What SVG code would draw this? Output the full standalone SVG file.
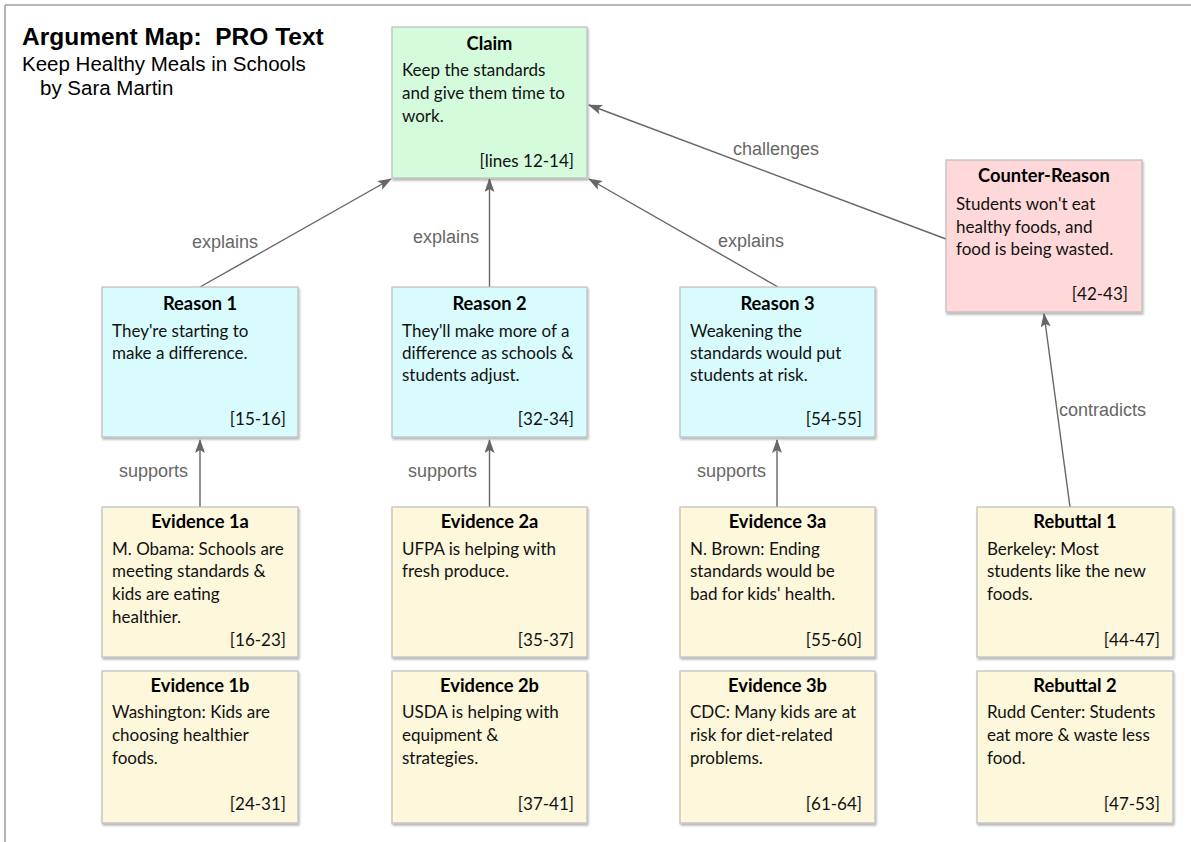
<svg xmlns="http://www.w3.org/2000/svg" width="1191" height="842" viewBox="0 0 1191 842">
  <style>
    .title { font-family: "Liberation Sans", Arial, sans-serif; font-weight: bold; font-size: 24.5px; fill: #000; white-space: pre; }
    .sub { font-family: "Liberation Sans", Arial, sans-serif; font-size: 20.5px; fill: #000; }
    .box { stroke: #bdbdbd; stroke-width: 1.2; filter: url(#shadow); }
    .claim { fill: #d5fbdd; }
    .reason { fill: #d8fbfe; }
    .counter { fill: #ffd9d9; }
    .evidence { fill: #fdf7dc; }
    .head { font-family: Lato, "Open Sans", sans-serif; font-weight: bold; font-size: 18.3px; fill: #000; text-anchor: middle; }
    .body { font-family: Lato, "Open Sans", sans-serif; font-size: 17px; fill: #111; }
    .ref { font-family: Lato, "Open Sans", sans-serif; font-size: 17px; fill: #111; text-anchor: end; }
    .edge { stroke: #666; stroke-width: 1.4; fill: none; marker-end: url(#arrow); }
    .lbl { font-family: "Liberation Sans", Arial, sans-serif; font-size: 18px; fill: #666; }
  </style>
  <defs>
    <filter id="shadow" x="-10%" y="-10%" width="125%" height="125%">
      <feDropShadow dx="1" dy="2" stdDeviation="1.3" flood-color="#000" flood-opacity="0.3"/>
    </filter>
    <marker id="arrow" viewBox="0 0 14 10" refX="13" refY="5" markerWidth="14" markerHeight="10" markerUnits="userSpaceOnUse" orient="auto">
      <path d="M0,0 L14,5 L0,10 L3,5 Z" fill="#666"/>
    </marker>
  </defs>

  <rect x="0" y="0" width="1191" height="842" fill="#fff"/>
  <!-- page frame: top and left rules -->
  <path d="M5,5 H1191 M5,5 V842" stroke="#a0a0a0" stroke-width="1.6" fill="none"/>

  <!-- heading -->
  <g id="heading">
    <text class="title" x="22" y="45">Argument Map:  PRO Text</text>
    <text class="sub" x="22" y="71">Keep Healthy Meals in Schools</text>
    <text class="sub" x="40" y="95">by Sara Martin</text>
  </g>

  <!-- connectors -->
  <g id="connectors">
    <line class="edge" x1="200" y1="287" x2="391" y2="179"/>
    <line class="edge" x1="489.5" y1="287" x2="489.5" y2="179"/>
    <line class="edge" x1="778" y1="287" x2="589" y2="179"/>
    <line class="edge" x1="946" y1="239" x2="589" y2="105"/>
    <line class="edge" x1="200" y1="507" x2="200" y2="440"/>
    <line class="edge" x1="489.5" y1="507" x2="489.5" y2="440"/>
    <line class="edge" x1="777" y1="507" x2="777" y2="440"/>
    <line class="edge" x1="1070" y1="507" x2="1044" y2="314"/>
    <text class="lbl" x="192" y="248">explains</text>
    <text class="lbl" x="413" y="243">explains</text>
    <text class="lbl" x="718" y="247">explains</text>
    <text class="lbl" x="733" y="155">challenges</text>
    <text class="lbl" x="119" y="477">supports</text>
    <text class="lbl" x="408" y="477">supports</text>
    <text class="lbl" x="697" y="477">supports</text>
    <text class="lbl" x="1059" y="416">contradicts</text>
  </g>

  <!-- claim -->
  <g id="claim">
    <rect class="box claim" x="392" y="27" width="195" height="151"/>
    <text class="head" x="489.5" y="50">Claim</text>
    <text class="body" x="402" y="76">Keep the standards</text>
    <text class="body" x="402" y="99">and give them time to</text>
    <text class="body" x="402" y="122">work.</text>
    <text class="ref" x="574" y="167">[lines 12-14]</text>
  </g>

  <!-- counter-reason -->
  <g id="counter-reason">
    <rect class="box counter" x="946" y="160" width="196" height="152"/>
    <text class="head" x="1044" y="182">Counter-Reason</text>
    <text class="body" x="956" y="210">Students won't eat</text>
    <text class="body" x="956" y="233">healthy foods, and</text>
    <text class="body" x="956" y="255">food is being wasted.</text>
    <text class="ref" x="1128" y="300">[42-43]</text>
  </g>

  <!-- reasons -->
  <g id="reason-1">
    <rect class="box reason" x="102" y="287" width="196" height="150"/>
    <text class="head" x="200" y="310">Reason 1</text>
    <text class="body" x="112" y="337">They're starting to</text>
    <text class="body" x="112" y="359">make a difference.</text>
    <text class="ref" x="286" y="425">[15-16]</text>
  </g>
  <g id="reason-2">
    <rect class="box reason" x="392" y="287" width="195" height="150"/>
    <text class="head" x="489.5" y="310">Reason 2</text>
    <text class="body" x="402" y="337">They'll make more of a</text>
    <text class="body" x="402" y="359">difference as schools &amp;</text>
    <text class="body" x="402" y="381">students adjust.</text>
    <text class="ref" x="574" y="425">[32-34]</text>
  </g>
  <g id="reason-3">
    <rect class="box reason" x="680" y="287" width="195" height="150"/>
    <text class="head" x="777.5" y="310">Reason 3</text>
    <text class="body" x="690" y="337">Weakening the</text>
    <text class="body" x="690" y="359">standards would put</text>
    <text class="body" x="690" y="381">students at risk.</text>
    <text class="ref" x="862" y="425">[54-55]</text>
  </g>

  <!-- evidence row a -->
  <g id="evidence-1a">
    <rect class="box evidence" x="102" y="507" width="196" height="150"/>
    <text class="head" x="200" y="528">Evidence 1a</text>
    <text class="body" x="112" y="555">M. Obama: Schools are</text>
    <text class="body" x="112" y="577">meeting standards &amp;</text>
    <text class="body" x="112" y="600">kids are eating</text>
    <text class="body" x="112" y="623">healthier.</text>
    <text class="ref" x="286" y="646">[16-23]</text>
  </g>
  <g id="evidence-2a">
    <rect class="box evidence" x="392" y="507" width="195" height="150"/>
    <text class="head" x="489.5" y="528">Evidence 2a</text>
    <text class="body" x="402" y="555">UFPA is helping with</text>
    <text class="body" x="402" y="577">fresh produce.</text>
    <text class="ref" x="574" y="646">[35-37]</text>
  </g>
  <g id="evidence-3a">
    <rect class="box evidence" x="680" y="507" width="195" height="150"/>
    <text class="head" x="777.5" y="528">Evidence 3a</text>
    <text class="body" x="690" y="555">N. Brown: Ending</text>
    <text class="body" x="690" y="577">standards would be</text>
    <text class="body" x="690" y="600">bad for kids' health.</text>
    <text class="ref" x="862" y="646">[55-60]</text>
  </g>
  <g id="rebuttal-1">
    <rect class="box evidence" x="977" y="507" width="196" height="150"/>
    <text class="head" x="1075" y="528">Rebuttal 1</text>
    <text class="body" x="987" y="555">Berkeley: Most</text>
    <text class="body" x="987" y="577">students like the new</text>
    <text class="body" x="987" y="600">foods.</text>
    <text class="ref" x="1160" y="646">[44-47]</text>
  </g>

  <!-- evidence row b -->
  <g id="evidence-1b">
    <rect class="box evidence" x="102" y="671" width="196" height="152"/>
    <text class="head" x="200" y="692">Evidence 1b</text>
    <text class="body" x="112" y="718">Washington: Kids are</text>
    <text class="body" x="112" y="741">choosing healthier</text>
    <text class="body" x="112" y="764">foods.</text>
    <text class="ref" x="286" y="810">[24-31]</text>
  </g>
  <g id="evidence-2b">
    <rect class="box evidence" x="392" y="671" width="195" height="152"/>
    <text class="head" x="489.5" y="692">Evidence 2b</text>
    <text class="body" x="402" y="718">USDA is helping with</text>
    <text class="body" x="402" y="741">equipment &amp;</text>
    <text class="body" x="402" y="764">strategies.</text>
    <text class="ref" x="574" y="810">[37-41]</text>
  </g>
  <g id="evidence-3b">
    <rect class="box evidence" x="680" y="671" width="195" height="152"/>
    <text class="head" x="777.5" y="692">Evidence 3b</text>
    <text class="body" x="690" y="718">CDC: Many kids are at</text>
    <text class="body" x="690" y="741">risk for diet-related</text>
    <text class="body" x="690" y="764">problems.</text>
    <text class="ref" x="862" y="810">[61-64]</text>
  </g>
  <g id="rebuttal-2">
    <rect class="box evidence" x="977" y="671" width="196" height="152"/>
    <text class="head" x="1075" y="692">Rebuttal 2</text>
    <text class="body" x="987" y="718">Rudd Center: Students</text>
    <text class="body" x="987" y="741">eat more &amp; waste less</text>
    <text class="body" x="987" y="764">food.</text>
    <text class="ref" x="1160" y="810">[47-53]</text>
  </g>
</svg>
